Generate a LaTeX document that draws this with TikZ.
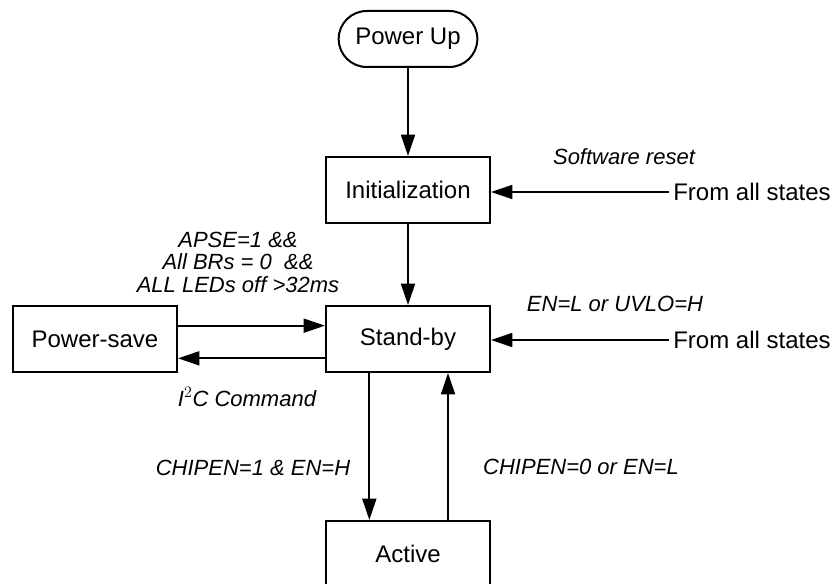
\documentclass[tikz,border=0pt]{standalone}
\usepackage{fontspec}
\setmainfont{Liberation Sans}
\usetikzlibrary{arrows.meta}

\begin{document}
\begin{tikzpicture}[
  x=0.75pt, y=-0.75pt,
  state/.style={draw, line width=1.5pt, rectangle, minimum width=123pt, minimum height=49.5pt,
                inner sep=0pt, font=\fontsize{18}{21}\selectfont},
  start/.style={state, minimum width=104pt, minimum height=42pt, rounded corners=21pt},
  lbl/.style={font=\fontsize{16.5}{16.9}\selectfont\itshape, align=center, inner sep=0pt},
  src/.style={anchor=west, inner sep=3pt, font=\fontsize{18}{21}\selectfont},
  arr/.style={line width=1.3pt, -{Triangle[length=16pt, width=10.5pt]}}
]
\useasboundingbox (0,0) rectangle (837,584);
\node[start] (pwrup)   at (408, 39)  {Power Up};
\node[state] (init)    at (408, 190) {Initialization};
\node[state] (stdby)   at (408, 339) {Stand-by};
\node[state] (pwrsave) at (95,  339) {Power-save};
\node[state] (active)  at (408, 554) {Active};
\node[src] (fas1) at (669, 192) {From all states};
\node[src] (fas2) at (669, 340) {From all states};
\draw[arr] (pwrup) -- (init);
\draw[arr] (init) -- (stdby);
\draw[arr] (fas1.west) -- (fas1.west -| init.east);
\draw[arr] (fas2.west) -- (fas2.west -| stdby.east);
\draw[arr] ([yshift=10pt]pwrsave.east) -- ([yshift=10pt]stdby.west);
\draw[arr] ([yshift=-14.5pt]stdby.west) -- ([yshift=-14.5pt]pwrsave.east);
\draw[arr] ([xshift=-29pt]stdby.south) -- ([xshift=-29pt]active.north);
\draw[arr] ([xshift=30pt]active.north) -- ([xshift=30pt]stdby.south);
% transition conditions
\node[lbl] (swrst)  at (624, 157) {Software reset};
\node[lbl] (enuvlo) at (615, 304) {EN=L or UVLO=H};
\node[lbl] (apse)   at (238, 262) {APSE=1 \&\&\\All BRs = 0\ \ \&\&\\ALL LEDs off >32ms};
\node[lbl] (iicmd)  at (247, 397) {I$^2$C Command};
\node[lbl] (chon)   at (253, 468) {CHIPEN=1 \& EN=H};
\node[lbl] (choff)  at (581, 467) {CHIPEN=0 or EN=L};
\end{tikzpicture}
\end{document}
